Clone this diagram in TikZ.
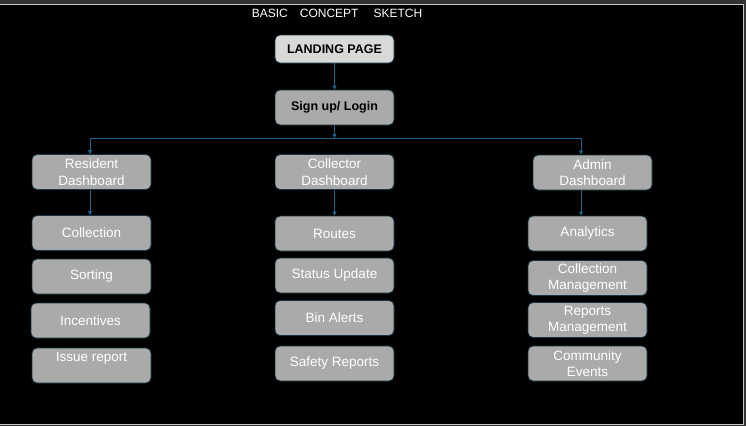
\documentclass[tikz,border=0pt]{standalone}
\usepackage{fontspec}
\setmainfont{Liberation Sans}
\usetikzlibrary{arrows.meta}
\definecolor{pagegray}{RGB}{52,52,52}
\definecolor{framegray}{RGB}{200,200,200}
\definecolor{boxgray}{RGB}{170,170,170}
\definecolor{topgray}{RGB}{217,217,217}
\definecolor{edgeteal}{RGB}{22,52,66}
\definecolor{linkblue}{RGB}{30,100,140}
\begin{document}
\begin{tikzpicture}[x=1pt, y=-1pt,
		card/.style={draw=edgeteal, line width=0.8pt, fill=boxgray, rounded corners=5pt, minimum width=119pt, minimum height=35pt, inner sep=0pt, align=center, text=white, font=\fontsize{13.5}{16.5}\selectfont},
		topcard/.style={card, text=black, font=\bfseries\fontsize{12.5}{15}\selectfont},
		link/.style={draw=linkblue, line width=0.8pt, -{Triangle[width=4pt,length=4pt]}}]
		\useasboundingbox (0,0) rectangle (746,426);
		\fill[pagegray] (0,0) rectangle (746,426);
		\draw[framegray, fill=black, line width=1pt] (-2,4) rectangle (743.5,424.5);
		\node[text=white, font=\fontsize{12}{14}\selectfont] (title) at (337,13) {BASIC\hspace{12pt}CONCEPT\hspace{15pt}SKETCH};
		
		\node[topcard, fill=topgray, minimum height=28pt] (land) at (334.5,49) {LANDING PAGE};
		\node[topcard] (sign) at (334.5,107.5) {Sign up/ Login};
		
		\node[card] (res) at (91.5,172) {Resident\\Dashboard};
		\node[card] (col) at (334.5,172) {Collector\\Dashboard};
		\node[card] (adm) at (592.5,172.5) {Admin\\Dashboard};
		
		\node[card] (colln) at (91.5,233) {Collection};
		\node[card] (sort) at (91.5,276.5) {Sorting};
		\node[card] (inc) at (90.5,320.5) {Incentives};
		\node[card] (iss) at (91.5,365.5) {Issue report\\\mbox{}};
		
		\node[card] (rout) at (334.5,233.5) {Routes};
		\node[card] (stat) at (334.5,275.5) {Status Update};
		\node[card] (bin) at (334.5,318) {Bin Alerts};
		\node[card] (saf) at (334.5,363.5) {Safety Reports};
		
		\node[card] (ana) at (587.5,233.5) {Analytics};
		\node[card] (cm) at (587.5,278) {Collection\\Management};
		\node[card] (rm) at (587.5,320) {Reports\\Management};
		\node[card] (ce) at (587.5,363.5) {Community\\Events};
		
		\coordinate (split) at (334.5,138);
		\coordinate (leftend) at (90,138);
		\coordinate (rightend) at (581,138);
		
		\draw[link] (land) -- (sign);
		\draw[link] (sign) -- (split);
		\draw[linkblue, line width=0.8pt] (leftend) -- (rightend);
		\draw[link] (leftend) -- (leftend |- res.north);
		\draw[link] (rightend) -- (rightend |- adm.north);
		\draw[link] (res.south -| leftend) -- (leftend |- colln.north);
		\draw[link] (col) -- (rout);
		\draw[link] (adm.south -| rightend) -- (rightend |- ana.north);
	\end{tikzpicture}
\end{document}
